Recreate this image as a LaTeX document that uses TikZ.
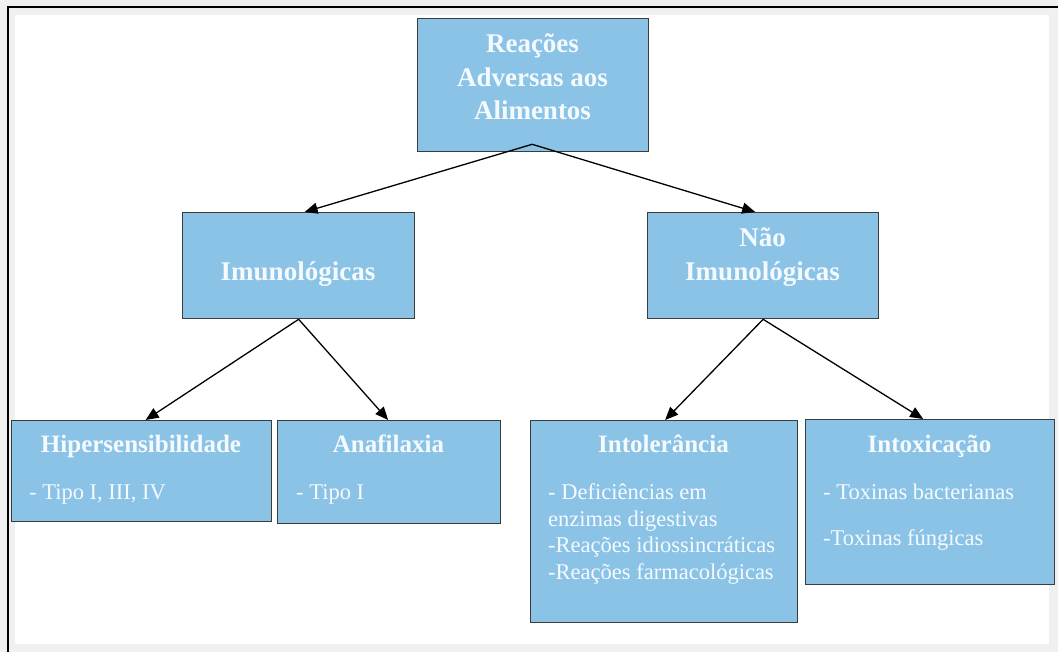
\documentclass[tikz,border=0pt]{standalone}
\usepackage{fontspec}
\setmainfont{Liberation Serif}
\usetikzlibrary{arrows.meta}
\definecolor{boxfill}{RGB}{139,195,230}
\definecolor{boxline}{RGB}{60,60,60}
\definecolor{txt}{RGB}{245,250,255}
\definecolor{bggray}{RGB}{240,240,240}
\tikzset{
  box/.style={draw=boxline, line width=1.3pt, fill=boxfill, rectangle, inner sep=0pt, anchor=north west},
  ttl/.style={text=txt, font=\fontsize{27}{33}\selectfont\bfseries, inner sep=0pt, anchor=base},
  sttl/.style={text=txt, font=\fontsize{25}{30}\selectfont\bfseries, inner sep=0pt, anchor=base},
  body/.style={text=txt, font=\fontsize{22.5}{27}\selectfont, inner sep=0pt, anchor=base west},
  arr/.style={line width=1.3pt, -{Triangle[length=13pt,width=11pt]}}
}
\begin{document}
\begin{tikzpicture}[x=1pt,y=-1pt]
\useasboundingbox (0,0) rectangle (1058,652);
\fill[bggray] (0,0) rectangle (1058,652);
\fill[white] (15,15) rectangle (1049,644);
\draw[line width=2pt] (1058,7) -- (8,7) -- (8,652);

% boxes
\node[box, minimum width=231pt, minimum height=133pt] (top) at (417,18) {};
\node[box, minimum width=232pt, minimum height=106pt] (imu) at (182,212) {};
\node[box, minimum width=231pt, minimum height=106pt] (nao) at (647,212) {};
\node[box, minimum width=260pt, minimum height=101pt] (hip) at (11,420) {};
\node[box, minimum width=223pt, minimum height=103pt] (ana) at (277,420) {};
\node[box, minimum width=267pt, minimum height=202pt] (intol) at (530,420) {};
\node[box, minimum width=249pt, minimum height=165pt] (intox) at (805,419) {};

% top texts
\node[ttl] (t1) at (532.5,52.7) {Reações};
\node[ttl] (t2) at (532.5,86.7) {Adversas aos};
\node[ttl] (t3) at (532.5,120) {Alimentos};
\node[ttl] (i1) at (298,281) {Imunológicas};
\node[ttl] (n1) at (762.5,247) {Não};
\node[ttl] (n2) at (762.5,281) {Imunológicas};

% bottom titles
\node[sttl] (h1) at (141,452) {Hipersensibilidade};
\node[sttl] (a1) at (388.5,452) {Anafilaxia};
\node[sttl] (l1) at (663.5,452) {Intolerância};
\node[sttl] (x1) at (929.5,452) {Intoxicação};

% bodies
\node[body] (h2) at (29,499) {- Tipo I, III, IV};
\node[body] (a2) at (296,499) {- Tipo I};
\node[body] (l2) at (548,499) {- Deficiências em};
\node[body] (l3) at (548,526) {enzimas digestivas};
\node[body] (l4) at (548,552) {-Reações idiossincráticas};
\node[body] (l5) at (548,579) {-Reações farmacológicas};
\node[body] (x2) at (823,499) {- Toxinas bacterianas};
\node[body] (x3) at (823,545) {-Toxinas fúngicas};

% connectors
\draw[arr] ([xshift=-1pt,yshift=8pt]top.south) -- ([xshift=6pt]imu.north);
\draw[arr] ([xshift=-1pt,yshift=8pt]top.south) -- ([xshift=-8pt]nao.north);
\draw[arr] (imu.south) -- ([xshift=4pt]hip.north);
\draw[arr] (imu.south) -- ([xshift=-1pt]ana.north);
\draw[arr] (nao.south) -- ([xshift=1pt]intol.north);
\draw[arr] (nao.south) -- ([xshift=-7pt]intox.north);
\end{tikzpicture}
\end{document}
